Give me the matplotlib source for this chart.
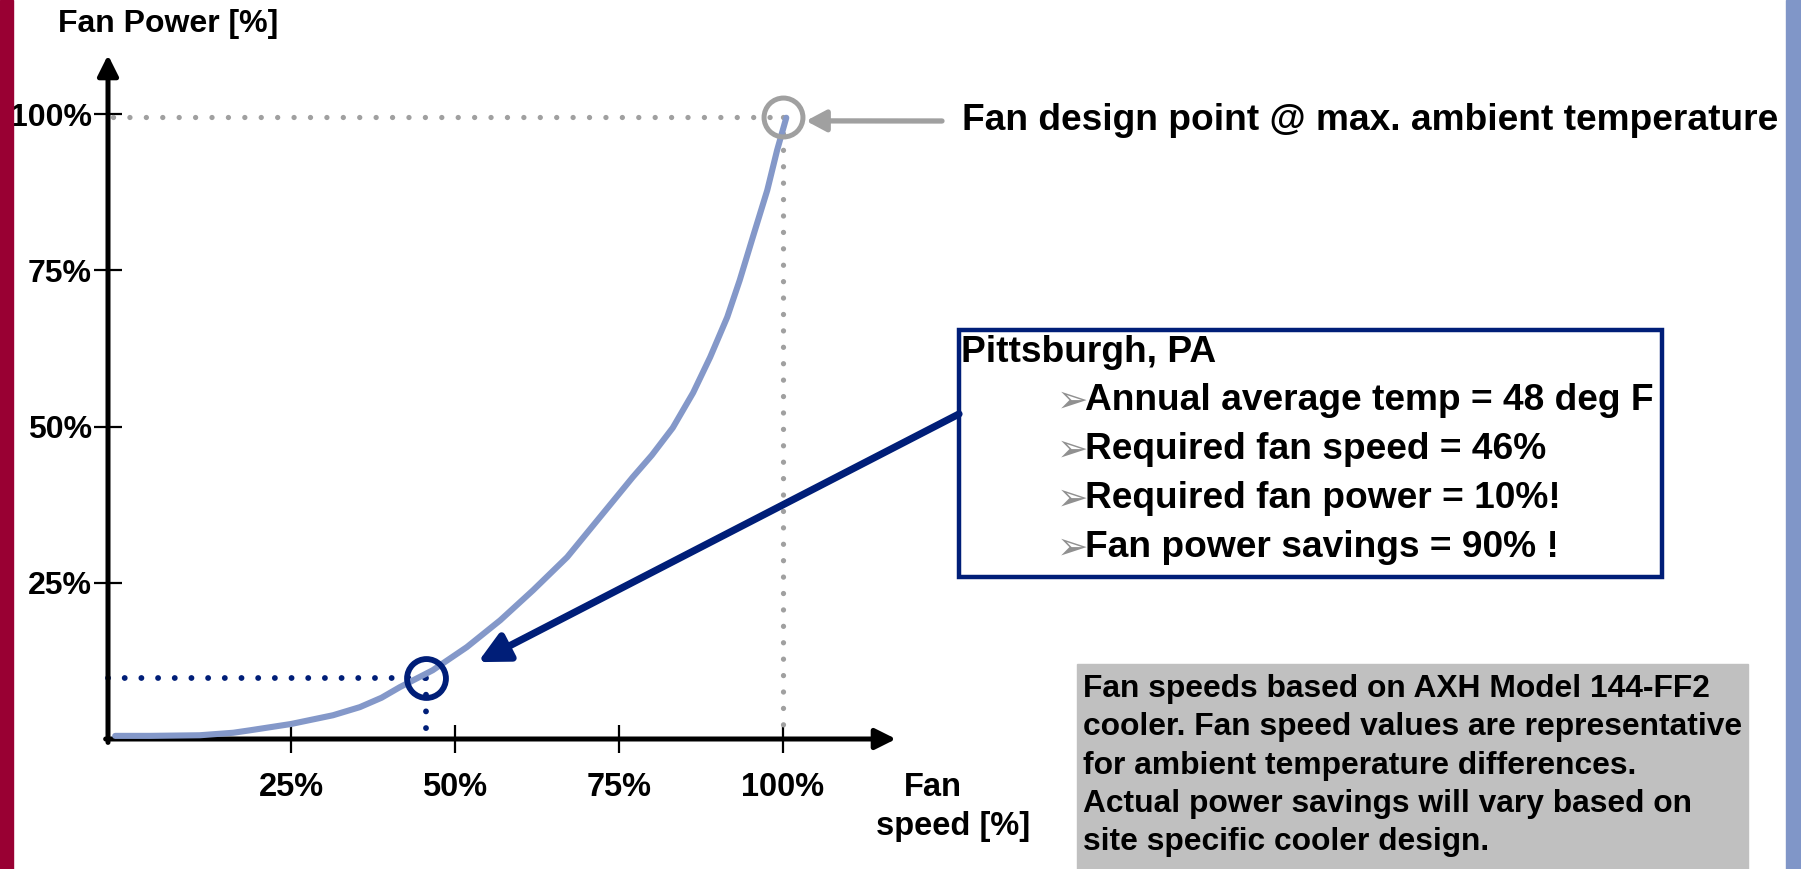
import matplotlib
matplotlib.use("Agg")
import matplotlib.pyplot as plt
from matplotlib.patches import Rectangle

plt.rcParams['font.family'] = ['Liberation Sans', 'DejaVu Sans']
plt.rcParams['font.weight'] = 'bold'

# fan curve (fan speed %, fan power %)
speed = [-1.8, 3.5, 11.1, 16.2, 18.8, 25.0, 31.4, 35.5, 38.8, 41.6, 46.6, 51.8, 56.9, 61.9,
         67.1, 72.1, 77.1, 80.0, 83.2, 86.3, 88.9, 91.5, 93.4, 95.4, 97.6, 99.1, 100.5]
power = [0.5, 0.5, 0.6, 1.0, 1.4, 2.4, 3.8, 5.1, 6.6, 8.3, 11.0, 14.7, 19.0, 23.8,
         29.1, 35.5, 41.9, 45.4, 49.8, 55.4, 61.1, 67.5, 73.4, 80.3, 87.8, 94.2, 99.4]

ticks = [25, 50, 75, 100]
tick_labels = ['25%', '50%', '75%', '100%']

design_pt = (100, 99.6)
operating_pt = (45.6, 9.8)

bullets = ["Annual average temp = 48 deg F",
           "Required fan speed = 46%",
           "Required fan power = 10%!",
           "Fan power savings = 90% !"]
note_lines = ["Fan speeds based on AXH Model 144-FF2",
              "cooler. Fan speed values are representative",
              "for ambient temperature differences.",
              "Actual power savings will vary based on",
              "site specific cooler design."]

navy = '#001E78'
curve_col = '#8498C9'
grey = '#A0A0A0'

W, H = 1801, 869


def fx(x):
    return x / W


def fy(y):
    return 1 - y / H


fig = plt.figure(figsize=(W / 100, H / 100), dpi=100)

# side bars
fig.patches.append(Rectangle((0, 0), fx(13), 1, transform=fig.transFigure, color='#990033', zorder=0))
fig.patches.append(Rectangle((fx(1786), 0), fx(15), 1, transform=fig.transFigure, color='#8096C8', zorder=0))

# axes placed so that 0% sits on the axis lines
ax = fig.add_axes([fx(108), fy(739), fx(896 - 108), (739 - 55) / H])
ax.set_xlim((108 - 127) / 6.56, (896 - 127) / 6.56)
ax.set_ylim(0, (739 - 55) / 6.25)
for s in ax.spines.values():
    s.set_visible(False)
ax.patch.set_alpha(0)

ax.set_xticks(ticks)
ax.set_xticklabels(tick_labels)
ax.set_yticks(ticks)
ax.set_yticklabels(tick_labels)
ax.tick_params(axis='x', direction='inout', length=20, width=1.6, pad=14, labelsize=23.5)
ax.tick_params(axis='y', direction='inout', length=19.5, width=1.6, pad=2, labelsize=23)

# axis arrows
arr = dict(arrowstyle='-|>,head_length=0.62,head_width=0.31', lw=3.6, color='black',
           shrinkA=0, shrinkB=0, mutation_scale=20)
ax.annotate('', xy=(0, 1), xytext=(0, -0.005), xycoords='axes fraction', arrowprops=arr)
ax.annotate('', xy=(1, 0), xytext=(-0.003, 0), xycoords='axes fraction', arrowprops=arr)

# guide lines
gdots = dict(color=grey, lw=3.8, linestyle=(0, (0.01, 3.1)), dash_capstyle='round', clip_on=False)
ax.plot([ax.get_xlim()[0] + 0.8, design_pt[0]], [design_pt[1], design_pt[1]], **gdots)
ax.plot([design_pt[0], design_pt[0]], [design_pt[1], 0.8], **gdots)
bdots = dict(color=navy, lw=4.2, linestyle=(0, (0.01, 2.85)), dash_capstyle='round', clip_on=False)
ax.plot([ax.get_xlim()[0], operating_pt[0]], [operating_pt[1], operating_pt[1]], **bdots)
ax.plot([operating_pt[0], operating_pt[0]], [operating_pt[1], 0.8], **bdots)

# fan curve
ax.plot(speed, power, color=curve_col, lw=4.4, solid_joinstyle='round', solid_capstyle='round',
        clip_on=False, zorder=3)

# circles
ax.plot(*design_pt, 'o', ms=28, mfc='none', mec=grey, mew=3.6, zorder=4, clip_on=False)
ax.plot(*operating_pt, 'o', ms=28, mfc='none', mec=navy, mew=4.2, zorder=4, clip_on=False)

# arrows to circles
ax.annotate('', xy=(103.5, 98.9), xycoords='data', xytext=(fx(942), fy(121)),
            textcoords='figure fraction', annotation_clip=False,
            arrowprops=dict(arrowstyle='-|>,head_length=0.6,head_width=0.32', lw=3.8,
                            color=grey, shrinkA=0, shrinkB=0, mutation_scale=20))
ax.annotate('', xy=(53.5, 12.3), xycoords='data', xytext=(fx(959), fy(414)),
            textcoords='figure fraction', annotation_clip=False,
            arrowprops=dict(arrowstyle='-|>,head_length=0.9,head_width=0.45', lw=5.2,
                            color=navy, shrinkA=0, shrinkB=0, mutation_scale=20))

# axis titles
fig.text(fx(58), fy(24), "Fan Power [%]", fontsize=23, va='center', ha='left')
fig.text(fx(933), fy(788), "Fan", fontsize=23.5, va='center', ha='center')
fig.text(fx(953), fy(827), "speed [%]", fontsize=23.5, va='center', ha='center')

fig.text(fx(962), fy(121), "Fan design point @ max. ambient temperature", fontsize=26.7,
         va='center', ha='left')

# info box
fig.patches.append(Rectangle((fx(959), fy(577)), fx(1662 - 959), (577 - 330) / H,
                             transform=fig.transFigure, fill=False, ec=navy, lw=3.2, zorder=5))
fig.text(fx(961), fy(352), "Pittsburgh, PA", fontsize=26.7, va='center', ha='left')
for i, line in enumerate(bullets):
    y = 401 + i * 48.7
    fig.text(fx(1057), fy(y + 1), "\u27a2", fontsize=27, color='#909090', va='center', ha='left',
             family=['DejaVu Sans'], weight='normal')
    fig.text(fx(1085), fy(y), line, fontsize=26.7, va='center', ha='left')

# note box
fig.patches.append(Rectangle((fx(1077), 0), fx(1748 - 1077), (869 - 664) / H,
                             transform=fig.transFigure, color='#C0C0C0', zorder=0))
for i, line in enumerate(note_lines):
    fig.text(fx(1083), fy(689 + i * 38.3), line, fontsize=22.9, va='center', ha='left')

fig.savefig("out.png", dpi=100)
